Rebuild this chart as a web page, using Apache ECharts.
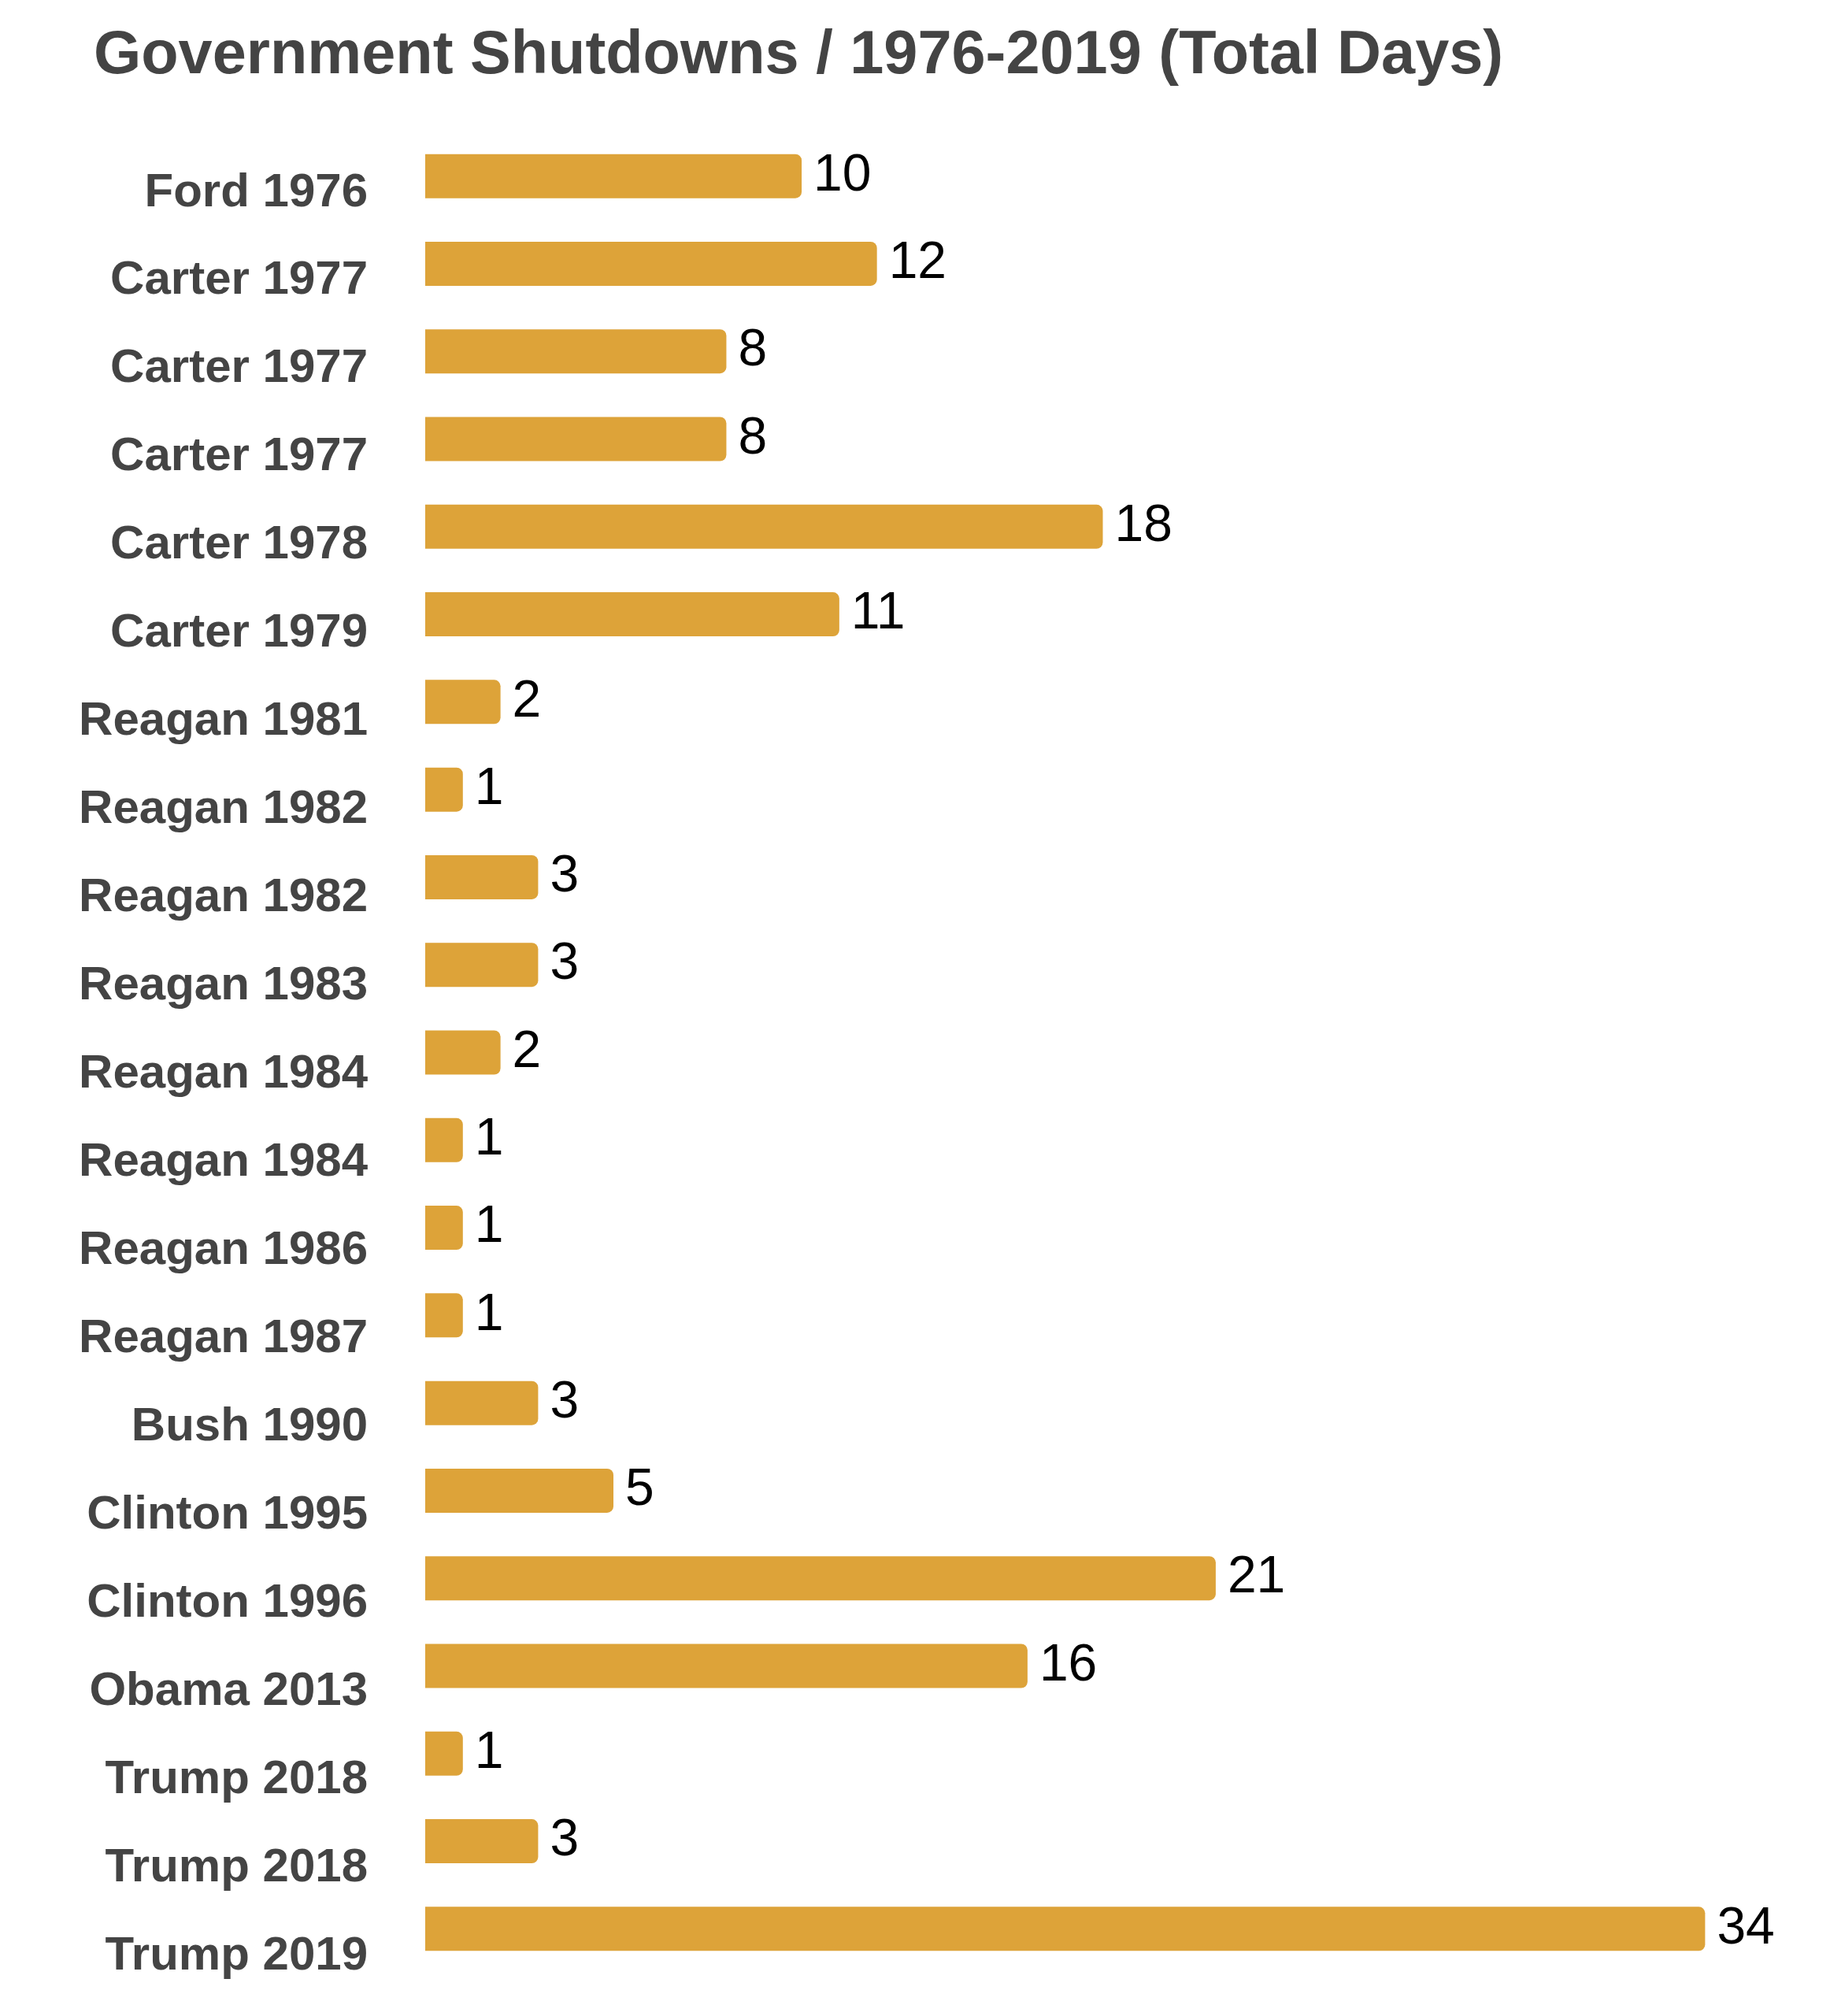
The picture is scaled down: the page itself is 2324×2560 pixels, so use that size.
<!DOCTYPE html>
<html>
<head>
<meta charset="utf-8">
<script src="https://cdn.jsdelivr.net/npm/echarts@6/dist/echarts.min.js"></script>
<style>
html,body{margin:0;padding:0;background:#fff;}
#chart{width:2324px;height:2560px;}
</style>
</head>
<body>
<div id="chart"></div>
<script>
const titleText = 'Government Shutdowns / 1976-2019 (Total Days)';
const categories = ['Ford 1976','Carter 1977','Carter 1977','Carter 1977','Carter 1978','Carter 1979','Reagan 1981','Reagan 1982','Reagan 1982','Reagan 1983','Reagan 1984','Reagan 1984','Reagan 1986','Reagan 1987','Bush 1990','Clinton 1995','Clinton 1996','Obama 2013','Trump 2018','Trump 2018','Trump 2019'];
const totalDays = [10,12,8,8,18,11,2,1,3,3,2,1,1,1,3,5,21,16,1,3,34];

const chart = echarts.init(document.getElementById('chart'));
chart.setOption({
  backgroundColor: '#ffffff',
  animation: false,
  title: {
    text: titleText,
    left: 114,
    top: 28,
    textStyle: {
      fontFamily: 'Liberation Sans',
      fontWeight: 'bold',
      fontSize: 77.5,
      color: '#444444'
    }
  },
  grid: [
    { left: 540, right: 63, top: 168, bottom: 55, containLabel: false },
    { left: 540, right: 63, top: 189, bottom: 20, containLabel: false }
  ],
  xAxis: [
    { type: 'value', gridIndex: 0, min: 0, max: 36, show: false },
    { type: 'value', gridIndex: 1, min: 0, max: 36, show: false }
  ],
  yAxis: [
    {
      type: 'category',
      gridIndex: 0,
      data: categories,
      inverse: true,
      axisLine: { show: false },
      axisTick: { show: false },
      splitLine: { show: false },
      axisLabel: { show: false }
    },
    {
      type: 'category',
      gridIndex: 1,
      data: categories,
      inverse: true,
      axisLine: { show: false },
      axisTick: { show: false },
      splitLine: { show: false },
      axisLabel: {
        margin: 73,
        fontFamily: 'Liberation Sans',
        fontWeight: 'bold',
        fontSize: 60,
        color: '#444444'
      }
    }
  ],
  series: [{
    type: 'bar',
    xAxisIndex: 0,
    yAxisIndex: 0,
    data: totalDays,
    barWidth: 56,
    itemStyle: {
      color: '#DDA339',
      borderRadius: [0, 8, 8, 0]
    },
    label: {
      show: true,
      position: 'right',
      distance: 15,
      fontFamily: 'Liberation Sans',
      fontSize: 66,
      color: '#000000'
    }
  }]
});
</script>
</body>
</html>
